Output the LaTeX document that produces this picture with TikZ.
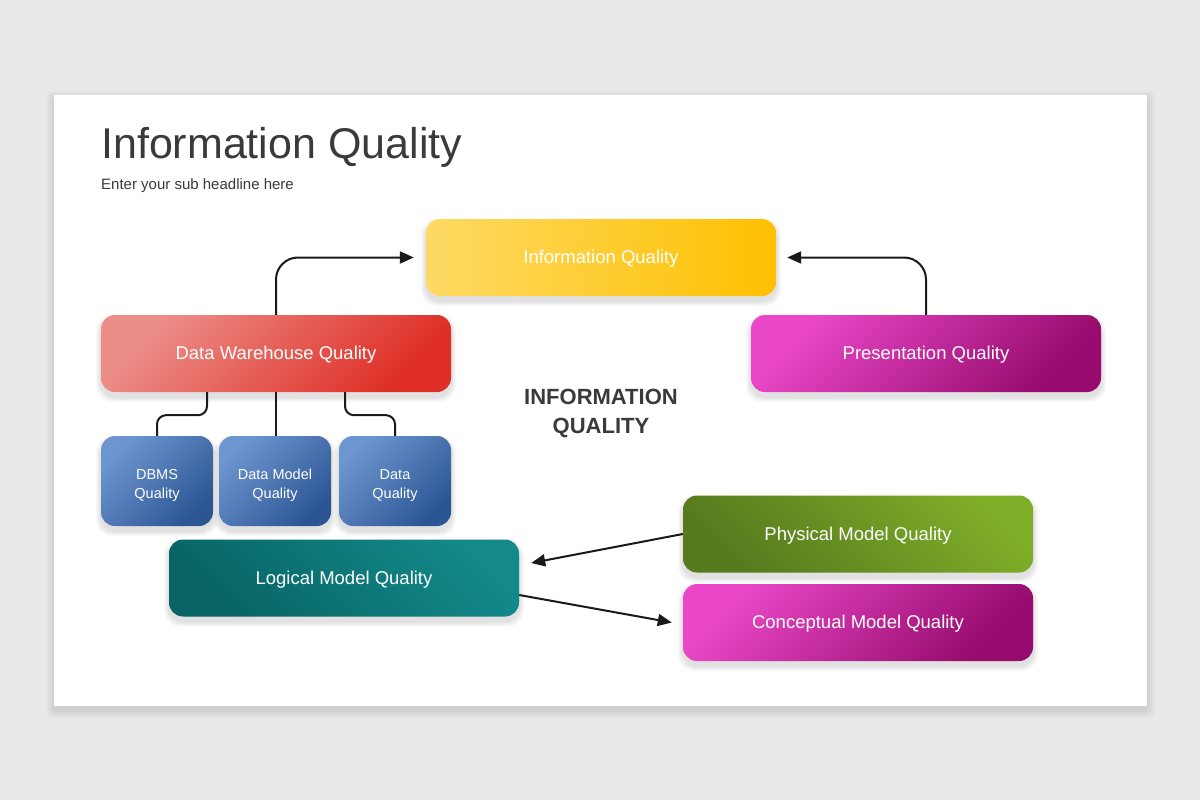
\documentclass[tikz,border=0pt]{standalone}
\usepackage{fontspec}
\setmainfont{Liberation Sans}
\usetikzlibrary{arrows.meta}
\definecolor{bgc}{HTML}{E9E7E9}
\definecolor{titlec}{HTML}{3A3A3A}
\definecolor{linec}{HTML}{1A1A1A}
\definecolor{yelA}{HTML}{FDDA64}
\definecolor{yelB}{HTML}{FFC000}
\definecolor{redA}{HTML}{EC8E88}
\definecolor{redB}{HTML}{DE2E25}
\definecolor{magA}{HTML}{EA48C8}
\definecolor{magB}{HTML}{960B6D}
\definecolor{bluA}{HTML}{6D96D0}
\definecolor{bluB}{HTML}{2C5594}
\definecolor{tealA}{HTML}{13898A}
\definecolor{tealB}{HTML}{086464}
\definecolor{grnA}{HTML}{7EAD28}
\definecolor{grnB}{HTML}{567A1E}
\begin{document}
\begin{tikzpicture}[x=1pt,y=-1pt,
  basebox/.style={rounded corners=14pt, minimum width=350pt, minimum height=77pt,
    inner sep=0pt, text=white},
  box/.style={basebox, font=\fontsize{18.5}{22}\selectfont, text height=1.3em, text depth=0.05em},
  smallbox/.style={basebox, minimum width=112pt, minimum height=90pt},
  smalltext/.style={inner sep=0pt, text=white, align=center, font=\fontsize{14.5}{19}\selectfont},
  yelfill/.style={top color=yelA, bottom color=yelB, shading angle=90},
  redfill/.style={top color=redA, bottom color=redB, shading angle=45},
  magfill/.style={top color=magA, bottom color=magB, shading angle=45},
  blufill/.style={top color=bluA, bottom color=bluB, shading angle=45},
  tealfill/.style={top color=tealA, bottom color=tealB, shading angle=-45},
  grnfill/.style={top color=grnA, bottom color=grnB, shading angle=-45},
  conn/.style={draw=linec, line width=2pt},
  arr/.style={conn, -{Triangle[length=14pt,width=12pt]}},
  boxshadow/.style={fill=black, opacity=0.022, rounded corners=16pt},
]
\useasboundingbox (0,0) rectangle (1200,800);
\fill[bgc] (0,0) rectangle (1200,800);
\foreach \i in {1,...,8}
  \fill[black, opacity=0.011, rounded corners=4pt] (54-\i,95-\i+4) rectangle (1147+\i,706+\i+4);
\node[fill=white, minimum width=1093pt, minimum height=611pt, inner sep=0pt]
  (slide) at (600.5,400.5) {};

\node[anchor=base west, inner sep=0pt, text=titlec, font=\fontsize{43}{50}\selectfont]
  (title) at (101,158) {Information Quality};
\node[anchor=base west, inner sep=0pt, text=titlec, font=\fontsize{15}{18}\selectfont]
  (sub) at (101,189) {Enter your sub headline here};
\node[align=center, inner sep=0pt, text=titlec, font=\bfseries\fontsize{22}{29}\selectfont]
  (center) at (601,413) {INFORMATION\\QUALITY};

% soft shadows under boxes
\foreach \x/\y/\w/\h in {601/257.5/350/77, 276/353.5/350/77, 926/353.5/350/77,
    344/578/350/77, 858/534/350/77, 858/622.5/350/77,
    157/481/112/90, 275/481/112/90, 395/481/112/90}
  \foreach \i in {1,...,5}
    \fill[boxshadow] (\x-\w/2-\i,\y-\h/2-\i+5) rectangle (\x+\w/2+\i,\y+\h/2+\i+5);

\node[box, yelfill] (iq) at (601,257.5) {Information Quality};
\node[box, redfill] (dwq) at (276,353.5) {Data Warehouse Quality};
\node[box, magfill] (pq) at (926,353.5) {Presentation Quality};
\node[smallbox, blufill] (dbms) at (157,481) {};
\node[smallbox, blufill] (dm) at (275,481) {};
\node[smallbox, blufill] (dq) at (395,481) {};
\node[smalltext] (dbmsT) at ([shift={(0,4.5)}]dbms.center) {DBMS\\Quality};
\node[smalltext] (dmT) at ([shift={(0,4.5)}]dm.center) {Data Model\\Quality};
\node[smalltext] (dqT) at ([shift={(0,4.5)}]dq.center) {Data\\Quality};
\node[box, tealfill] (lmq) at (344,578) {Logical Model Quality};
\node[box, grnfill] (pmq) at (858,534) {Physical Model Quality};
\node[box, magfill] (cmq) at (858,622.5) {Conceptual Model Quality};

\draw[arr, rounded corners=22pt, shorten >=12pt] (dwq.north) |- (iq.west);
\draw[arr, rounded corners=22pt, shorten >=11pt] (pq.north) |- (iq.east);
\draw[conn, rounded corners=9pt] ([shift={(-69,0)}]dwq.south) -- ++(0,23) -| (dbms.north);
\draw[conn] (dwq.south) -- (dwq.south |- dm.north);
\draw[conn, rounded corners=9pt] ([shift={(69,0)}]dwq.south) -- ++(0,23) -| (dq.north);
\draw[arr] (pmq.west) -- ([shift={(12,-15)}]lmq.east);
\draw[arr] ([shift={(0,17)}]lmq.east) -- ([shift={(-11,0)}]cmq.west);
\end{tikzpicture}
\end{document}
